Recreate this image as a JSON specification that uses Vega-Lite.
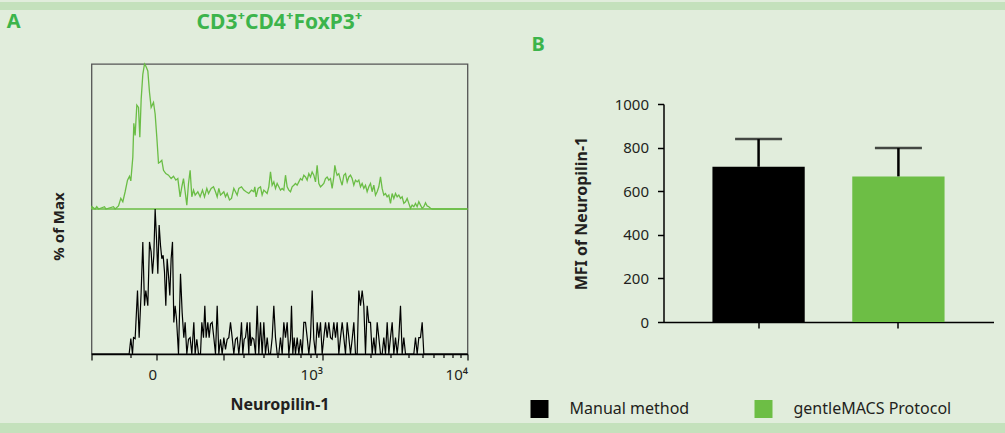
{
  "$schema": "https://vega.github.io/schema/vega-lite/v6.json",
  "padding": 0,
  "background": "#e1eddc",
  "spacing": 0,
  "center": true,
  "config": {
    "font": "Noto Sans",
    "view": {"stroke": null},
    "axis": {"grid": false, "labelColor": "#231f20", "titleColor": "#231f20"},
    "title": {"color": "#3cb44b", "fontSize": 20, "fontWeight": "bold"}
  },
  "datasets": {
    "green": [
      {"ch":0,"pct":0},{"ch":1,"pct":1.6},{"ch":9,"pct":0},{"ch":13,"pct":1.6},{"ch":17.5,"pct":0},{"ch":32.5,"pct":1.6},{"ch":36,"pct":0},{"ch":55,"pct":1.6},{"ch":59,"pct":0},{"ch":67.5,"pct":2.1},{"ch":73.3,"pct":7.3},{"ch":78.3,"pct":5},{"ch":84.1,"pct":11.9},{"ch":90,"pct":19.9},{"ch":95,"pct":22.6},{"ch":98.3,"pct":19.4},{"ch":103.3,"pct":35.8},{"ch":105.8,"pct":59.1},{"ch":109.1,"pct":50.7},{"ch":113.3,"pct":71.7},{"ch":117.5,"pct":70.1},{"ch":120.8,"pct":49.5},{"ch":124.2,"pct":75.8},{"ch":128.3,"pct":92.9},{"ch":132.5,"pct":100},{"ch":135.8,"pct":98.6},{"ch":140.8,"pct":95.2},{"ch":145,"pct":80.4},{"ch":149.1,"pct":70.1},{"ch":155,"pct":73.5},{"ch":159.1,"pct":65.5},{"ch":163.3,"pct":49.5},{"ch":167.5,"pct":31.7},{"ch":171.6,"pct":32.4},{"ch":175.8,"pct":33.6},{"ch":180,"pct":26.7},{"ch":185.8,"pct":24.4},{"ch":192.5,"pct":23.3},{"ch":199.1,"pct":21},{"ch":205,"pct":22.6},{"ch":210.8,"pct":19.9},{"ch":215.8,"pct":21},{"ch":221.6,"pct":8.4},{"ch":225.8,"pct":15.3},{"ch":230,"pct":21},{"ch":234.1,"pct":11.9},{"ch":238.3,"pct":2.7},{"ch":242.5,"pct":17.6},{"ch":246.6,"pct":26.7},{"ch":250.8,"pct":8.4},{"ch":255,"pct":13},{"ch":259.1,"pct":9.6},{"ch":265.8,"pct":11.9},{"ch":271.6,"pct":8.4},{"ch":277.5,"pct":13},{"ch":282.5,"pct":8.4},{"ch":288.3,"pct":14.2},{"ch":292.5,"pct":10.7},{"ch":299.1,"pct":14.2},{"ch":305,"pct":15.3},{"ch":310,"pct":11.9},{"ch":314.2,"pct":8.4},{"ch":318.3,"pct":14.2},{"ch":322.5,"pct":9.6},{"ch":326.7,"pct":10.7},{"ch":330.8,"pct":11.9},{"ch":335,"pct":8.4},{"ch":339.2,"pct":10.7},{"ch":345,"pct":6.2},{"ch":350,"pct":7.3},{"ch":355.8,"pct":14.2},{"ch":360,"pct":11.9},{"ch":364.2,"pct":9.6},{"ch":368.3,"pct":14.2},{"ch":375,"pct":15.3},{"ch":380.8,"pct":13},{"ch":386.6,"pct":11.9},{"ch":393.3,"pct":10.7},{"ch":400,"pct":13},{"ch":405.8,"pct":11.9},{"ch":408.3,"pct":15.3},{"ch":411.6,"pct":8.4},{"ch":416.6,"pct":14.2},{"ch":422.5,"pct":15.3},{"ch":426.6,"pct":9.6},{"ch":430.8,"pct":13},{"ch":435,"pct":11.9},{"ch":439.1,"pct":10.7},{"ch":443.3,"pct":15.3},{"ch":447.5,"pct":25.6},{"ch":451.6,"pct":16.4},{"ch":455.8,"pct":18.7},{"ch":460,"pct":14.2},{"ch":464.1,"pct":17.6},{"ch":468.3,"pct":15.3},{"ch":472.5,"pct":13},{"ch":476.6,"pct":14.2},{"ch":480.8,"pct":13},{"ch":485,"pct":23.3},{"ch":489.1,"pct":15.3},{"ch":493.3,"pct":13},{"ch":497.5,"pct":11.9},{"ch":501.6,"pct":15.3},{"ch":505.8,"pct":16.4},{"ch":510,"pct":17.6},{"ch":514.1,"pct":16.4},{"ch":518.3,"pct":18.7},{"ch":522.5,"pct":21},{"ch":526.6,"pct":19.9},{"ch":530.8,"pct":23.3},{"ch":535,"pct":22.1},{"ch":539.1,"pct":19.9},{"ch":543.3,"pct":24.4},{"ch":547.5,"pct":22.1},{"ch":551.6,"pct":25.6},{"ch":555.8,"pct":23.3},{"ch":560,"pct":18.7},{"ch":564.1,"pct":30.1},{"ch":568.3,"pct":17.6},{"ch":572.5,"pct":15.3},{"ch":576.6,"pct":16.4},{"ch":580.8,"pct":17.6},{"ch":585,"pct":21},{"ch":589.1,"pct":22.1},{"ch":593.3,"pct":19.9},{"ch":597.5,"pct":21},{"ch":601.6,"pct":14.2},{"ch":605.8,"pct":22.1},{"ch":608.3,"pct":30.1},{"ch":611.6,"pct":25.6},{"ch":614.1,"pct":23.3},{"ch":618.3,"pct":24.4},{"ch":622.5,"pct":19.9},{"ch":626.6,"pct":16.4},{"ch":630.8,"pct":23.3},{"ch":635,"pct":24.4},{"ch":639.2,"pct":18.7},{"ch":643.3,"pct":22.1},{"ch":647.5,"pct":23.3},{"ch":651.6,"pct":21},{"ch":655.8,"pct":16.4},{"ch":660,"pct":19.9},{"ch":664.1,"pct":18.7},{"ch":668.3,"pct":19.9},{"ch":672.5,"pct":15.3},{"ch":676.6,"pct":17.6},{"ch":680.8,"pct":14.2},{"ch":685,"pct":16.4},{"ch":689.1,"pct":11.9},{"ch":693.3,"pct":15.3},{"ch":697.5,"pct":17.6},{"ch":701.6,"pct":11.9},{"ch":705.8,"pct":16.4},{"ch":710,"pct":9.6},{"ch":714.1,"pct":11.9},{"ch":718.3,"pct":15.3},{"ch":722.5,"pct":22.1},{"ch":726.6,"pct":14.2},{"ch":730.8,"pct":9.6},{"ch":735,"pct":10.7},{"ch":739.1,"pct":8.4},{"ch":743.3,"pct":9.6},{"ch":747.5,"pct":3.9},{"ch":751.6,"pct":10.7},{"ch":755.8,"pct":7.3},{"ch":760,"pct":10.7},{"ch":764.1,"pct":8.4},{"ch":768.3,"pct":9.6},{"ch":772.5,"pct":7.3},{"ch":776.6,"pct":8.4},{"ch":780.8,"pct":3.9},{"ch":785,"pct":5},{"ch":789.1,"pct":7.3},{"ch":793.3,"pct":3.9},{"ch":797.5,"pct":0.5},{"ch":801.6,"pct":2.7},{"ch":805.8,"pct":1.6},{"ch":810,"pct":3.9},{"ch":814.1,"pct":1.6},{"ch":818.3,"pct":5},{"ch":822.5,"pct":2.7},{"ch":826.6,"pct":0.5},{"ch":830.8,"pct":1.6},{"ch":835,"pct":4.3},{"ch":839.1,"pct":2.1},{"ch":843.3,"pct":1.6},{"ch":847.5,"pct":0.5},{"ch":851.6,"pct":0},{"ch":940,"pct":0}
    ],
    "black": [
      {"ch":0,"pct":0},{"ch":94.1,"pct":0},{"ch":98.3,"pct":10.6},{"ch":102.5,"pct":0},{"ch":105,"pct":11.3},{"ch":109.1,"pct":10.6},{"ch":115,"pct":43.8},{"ch":119.1,"pct":11.3},{"ch":124.1,"pct":42.6},{"ch":128.3,"pct":77.3},{"ch":132.5,"pct":33.3},{"ch":135.8,"pct":43.8},{"ch":140.8,"pct":33.3},{"ch":145,"pct":77.3},{"ch":149.1,"pct":70.4},{"ch":152.5,"pct":55.3},{"ch":155.8,"pct":68.1},{"ch":159.1,"pct":100},{"ch":162.5,"pct":79.6},{"ch":165.8,"pct":55.3},{"ch":169.1,"pct":88.9},{"ch":172.5,"pct":75},{"ch":175.8,"pct":65.7},{"ch":179.1,"pct":68.1},{"ch":182.5,"pct":56.5},{"ch":185.8,"pct":33.3},{"ch":189.1,"pct":65.7},{"ch":192.5,"pct":54.2},{"ch":195.8,"pct":40.3},{"ch":199.1,"pct":65.7},{"ch":202.5,"pct":77.3},{"ch":205.8,"pct":21.8},{"ch":209.1,"pct":33.3},{"ch":212.5,"pct":24.1},{"ch":217.5,"pct":0},{"ch":222.5,"pct":55.3},{"ch":226.6,"pct":28.7},{"ch":230.8,"pct":11.3},{"ch":234.1,"pct":21.8},{"ch":238.3,"pct":0},{"ch":242.5,"pct":10.2},{"ch":246.6,"pct":11.3},{"ch":250.8,"pct":0},{"ch":255.8,"pct":21.8},{"ch":259.1,"pct":0},{"ch":263.3,"pct":10.2},{"ch":267.5,"pct":0},{"ch":272.5,"pct":0},{"ch":275.8,"pct":21.8},{"ch":280,"pct":11.3},{"ch":283.3,"pct":33.3},{"ch":286.6,"pct":11.3},{"ch":290.8,"pct":21.8},{"ch":294.1,"pct":11.3},{"ch":297.5,"pct":20.6},{"ch":301.6,"pct":21.8},{"ch":305.8,"pct":11.3},{"ch":310,"pct":0},{"ch":314.2,"pct":33.3},{"ch":318.3,"pct":0},{"ch":322.5,"pct":10.2},{"ch":326.7,"pct":0},{"ch":330.8,"pct":11.3},{"ch":335,"pct":3.2},{"ch":339.2,"pct":10.2},{"ch":343.3,"pct":11.3},{"ch":347.5,"pct":21.8},{"ch":351.7,"pct":11.3},{"ch":355.8,"pct":0},{"ch":360,"pct":10.2},{"ch":364.2,"pct":11.3},{"ch":368.3,"pct":0},{"ch":372.5,"pct":11.3},{"ch":375,"pct":21.8},{"ch":378.3,"pct":0},{"ch":381.7,"pct":10.2},{"ch":385,"pct":11.3},{"ch":389.2,"pct":21.8},{"ch":393.3,"pct":0},{"ch":395.8,"pct":21.8},{"ch":398.3,"pct":5.6},{"ch":401.7,"pct":11.3},{"ch":405.8,"pct":10.2},{"ch":410,"pct":0},{"ch":414.2,"pct":33.3},{"ch":418.3,"pct":0},{"ch":422.5,"pct":21.8},{"ch":426.7,"pct":0},{"ch":430.8,"pct":21.8},{"ch":435,"pct":0},{"ch":439.2,"pct":11.3},{"ch":443.3,"pct":0},{"ch":447.5,"pct":0},{"ch":451.7,"pct":11.3},{"ch":455.8,"pct":33.3},{"ch":460,"pct":11.3},{"ch":464.2,"pct":0},{"ch":468.3,"pct":0},{"ch":472.5,"pct":11.3},{"ch":476.7,"pct":0},{"ch":480.8,"pct":21.8},{"ch":485,"pct":11.3},{"ch":489.2,"pct":21.8},{"ch":493.3,"pct":0},{"ch":497.5,"pct":10.2},{"ch":500,"pct":33.3},{"ch":503.3,"pct":0},{"ch":506.7,"pct":11.3},{"ch":510,"pct":0},{"ch":514.2,"pct":11.3},{"ch":518.3,"pct":0},{"ch":522.5,"pct":10.2},{"ch":526.7,"pct":0},{"ch":530.8,"pct":21.8},{"ch":535,"pct":21.8},{"ch":539.2,"pct":11.3},{"ch":543.3,"pct":0},{"ch":547.5,"pct":11.3},{"ch":551.7,"pct":43.8},{"ch":555.8,"pct":10.2},{"ch":560,"pct":0},{"ch":564.2,"pct":21.8},{"ch":568.3,"pct":11.3},{"ch":572.5,"pct":21.8},{"ch":576.7,"pct":0},{"ch":580.8,"pct":11.3},{"ch":585,"pct":21.8},{"ch":589.2,"pct":11.3},{"ch":593.3,"pct":21.8},{"ch":597.5,"pct":11.3},{"ch":601.7,"pct":10.2},{"ch":605.8,"pct":21.8},{"ch":610,"pct":11.3},{"ch":614.2,"pct":21.8},{"ch":618.3,"pct":0},{"ch":622.5,"pct":11.3},{"ch":626.7,"pct":21.8},{"ch":630.8,"pct":11.3},{"ch":635,"pct":0},{"ch":639.2,"pct":21.8},{"ch":643.3,"pct":11.3},{"ch":647.5,"pct":0},{"ch":651.7,"pct":10.2},{"ch":655.8,"pct":21.8},{"ch":660,"pct":0},{"ch":664.2,"pct":0},{"ch":668.3,"pct":43.8},{"ch":672.5,"pct":33.3},{"ch":676.7,"pct":43.8},{"ch":680.8,"pct":33.3},{"ch":685,"pct":0},{"ch":689.2,"pct":33.3},{"ch":693.3,"pct":21.8},{"ch":697.5,"pct":21.8},{"ch":701.7,"pct":0},{"ch":705.8,"pct":11.3},{"ch":710,"pct":0},{"ch":714.2,"pct":21.8},{"ch":718.3,"pct":11.3},{"ch":722.5,"pct":0},{"ch":726.7,"pct":0},{"ch":730.8,"pct":11.3},{"ch":735,"pct":0},{"ch":739.2,"pct":21.8},{"ch":743.3,"pct":0},{"ch":747.5,"pct":11.3},{"ch":751.7,"pct":21.8},{"ch":755.8,"pct":0},{"ch":760,"pct":11.3},{"ch":764.2,"pct":0},{"ch":768.3,"pct":11.3},{"ch":772.5,"pct":33.3},{"ch":776.7,"pct":0},{"ch":780.8,"pct":11.3},{"ch":785,"pct":0},{"ch":805.8,"pct":0},{"ch":810,"pct":11.3},{"ch":814.2,"pct":0},{"ch":818.3,"pct":11.3},{"ch":822.5,"pct":11.3},{"ch":826.7,"pct":21.8},{"ch":830.8,"pct":0},{"ch":940,"pct":0}
    ],
    "mfi": [
      {"method": "Manual method", "mfi": 712, "upper": 839},
      {"method": "gentleMACS Protocol", "mfi": 668, "upper": 798}
    ]
  },
  "vconcat": [
    {
      "width": 1085, "height": 8,
      "view": {"fill": "#c4e1bc", "stroke": null},
      "data": {"values": [{}]},
      "mark": "text",
      "encoding": {"text": {"value": ""}}
    },
    {
      "bounds": "flush",
      "spacing": 196,
      "resolve": {"legend": {"color": "independent"}},
      "title": {"text": "A", "anchor": "start", "frame": "bounds", "offset": 0, "dx": -44, "dy": 20},
      "hconcat": [
        {
          "width": 376, "height": 290,
          "view": {"stroke": "#555555", "strokeWidth": 1.3},
          "title": {"text": "CD3⁺CD4⁺FoxP3⁺", "anchor": "middle", "offset": 28, "fontSize": 21},
          "layer": [
            {
              "data": {"name": "green"},
              "layer": [
                {
                  "mark": {"type": "line", "color": "#6abd45", "strokeWidth": 1.3},
                  "encoding": {
                    "x": {"field": "ch", "type": "quantitative", "scale": {"domain": [0, 940], "nice": false, "zero": false},
                      "axis": {"values": [0, 162.5, 330, 577.5, 940],
                        "labelExpr": "datum.value == 162.5 ? '0' : datum.value == 577.5 ? '10³' : datum.value == 940 ? '10⁴' : ''",
                        "tickSize": 6, "tickColor": "#000000", "tickWidth": 1.2, "domainColor": "#000000", "domainWidth": 1.3,
                        "labelFontSize": 15, "labelAlign": "right", "labelDx": 2, "labelPadding": 7,
                        "labelFlush": false, "labelOverlap": false, "labelBound": false,
                        "title": "Neuropilin-1", "titleFontSize": 16, "titleFontWeight": "bold", "titlePadding": 14}},
                    "y": {"field": "pct", "type": "quantitative", "scale": {"domain": [-100, 100], "nice": false},
                      "axis": {"title": "% of Max", "labels": false, "ticks": false, "domain": false,
                        "titleFontSize": 15, "titleFontWeight": "bold", "titlePadding": 25, "titleY": 162}}
                  }
                },
                {
                  "data": {"values": [{}]},
                  "mark": {"type": "rule", "color": "#6abd45", "strokeWidth": 1.6},
                  "encoding": {"y": {"datum": 0, "type": "quantitative"}}
                }
              ]
            },
            {
              "data": {"name": "black"},
              "mark": {"type": "line", "color": "#000000", "strokeWidth": 1.2},
              "encoding": {
                "x": {"field": "ch", "type": "quantitative",
                  "axis": {"orient": "bottom", "values": [97.5, 380, 430, 465, 492.5, 522.5, 547.5, 562.5, 697.5, 747.5, 792.5, 827.5, 855, 880, 902.5, 922.5],
                    "tickSize": 3.5, "tickColor": "#000000", "tickWidth": 1.2, "labels": false, "domain": false, "title": null}},
                "y": {"field": "pct", "type": "quantitative", "scale": {"domain": [0, 200], "nice": false}, "axis": null}
              }
            }
          ],
          "resolve": {"scale": {"y": "independent"}, "axis": {"x": "independent", "y": "independent"}}
        },
        {
          "width": 330, "height": 290,
          "data": {"name": "mfi"},
          "title": {"text": "B", "anchor": "start", "frame": "bounds", "offset": 9, "dx": 6},
          "encoding": {
            "x": {"field": "method", "type": "nominal", "sort": null,
              "scale": {"paddingInner": 0.34, "paddingOuter": 0.35},
              "axis": {"labels": false, "title": null, "tickSize": 6, "tickWidth": 1.5, "tickColor": "#000000",
                "domainWidth": 1.5, "domainColor": "#000000", "offset": -32}}
          },
          "layer": [
            {
              "mark": {"type": "bar"},
              "encoding": {
                "y": {"field": "mfi", "type": "quantitative",
                  "scale": {"domain": [0, 1000], "range": [258, 40], "nice": false},
                  "axis": {"values": [0, 200, 400, 600, 800, 1000], "format": "d", "tickSize": 6, "tickWidth": 1.5, "tickColor": "#000000",
                    "domainWidth": 1.5, "domainColor": "#000000", "labelFontSize": 15, "labelPadding": 9,
                    "title": "MFI of Neuropilin-1", "titleFontSize": 16, "titleFontWeight": "bold", "titlePadding": 25}},
                "color": {"field": "method", "type": "nominal", "sort": null,
                  "scale": {"domain": ["Manual method", "gentleMACS Protocol"], "range": ["#000000", "#6dbe45"]},
                  "legend": {"orient": "none", "legendX": -138, "legendY": 331, "padding": 5, "direction": "horizontal", "title": null,
                    "symbolType": "square", "symbolSize": 324, "symbolStrokeWidth": 0, "symbolOpacity": 1,
                    "labelFontSize": 16, "labelOffset": 21, "columnPadding": 65, "labelColor": "#231f20"}}
              }
            },
            {
              "mark": {"type": "rule", "color": "#000000", "strokeWidth": 2.5},
              "encoding": {"y": {"field": "mfi", "type": "quantitative"}, "y2": {"field": "upper"}}
            },
            {
              "mark": {"type": "tick", "color": "#000000", "thickness": 2.5, "size": 47},
              "encoding": {"y": {"field": "upper", "type": "quantitative"}}
            }
          ]
        }
      ]
    },
    {
      "width": 1085, "height": 12,
      "view": {"fill": "#c4e1bc", "stroke": null},
      "data": {"values": [{}]},
      "mark": "text",
      "encoding": {"text": {"value": ""}}
    }
  ]
}
